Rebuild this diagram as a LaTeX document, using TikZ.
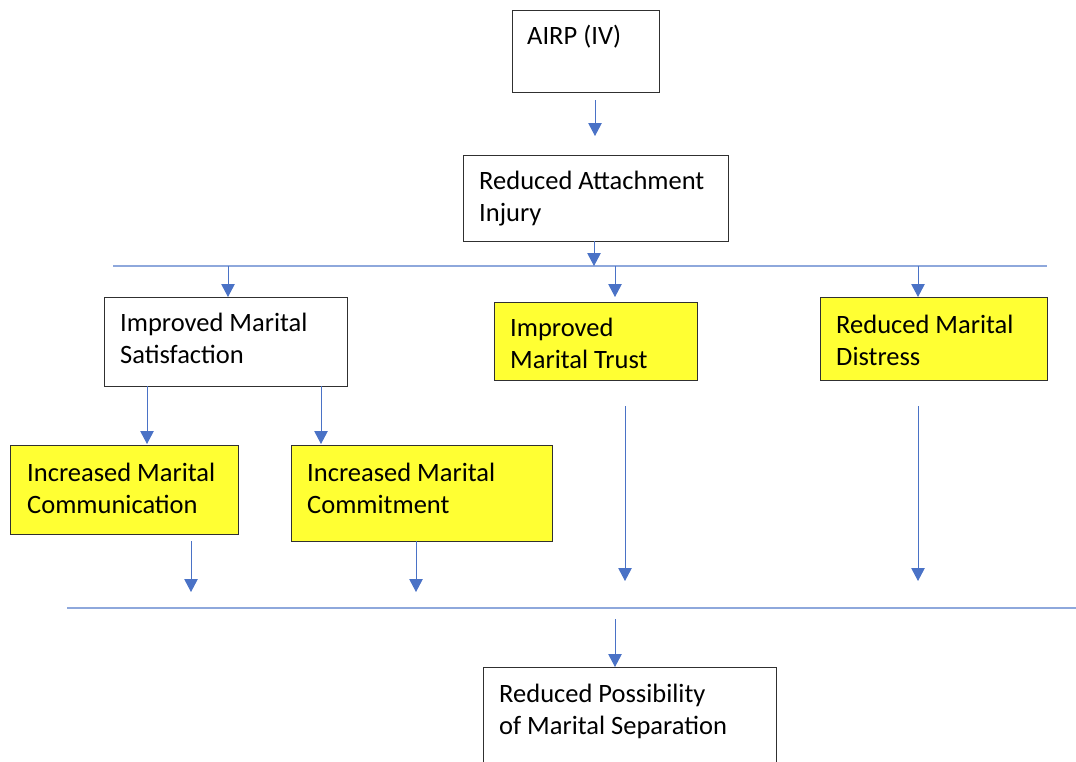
\documentclass[tikz,border=0pt]{standalone}
\usepackage{fontspec}
\setmainfont{Carlito}
\usetikzlibrary{arrows.meta}
\definecolor{arrowblue}{HTML}{4A72C6}
\definecolor{lineblue}{HTML}{8EA8DC}
\definecolor{boxyellow}{HTML}{FFFF33}
\definecolor{boxline}{HTML}{303030}
\begin{document}
\begin{tikzpicture}[x=1pt,y=-1pt,
  box/.style={draw=boxline,line width=1pt,fill=white,inner sep=0pt,anchor=north west},
  ybox/.style={box,fill=boxyellow},
  txt/.style={anchor=base west,inner sep=0pt,align=left,font=\fontsize{26.5}{31.5}\selectfont},
  arr/.style={draw=arrowblue,line width=1pt,-{Triangle[width=13.5pt,length=13pt]}},
  hline/.style={draw=lineblue,line width=1.4pt}]
\useasboundingbox (0,0) rectangle (1076,761);
% boxes
\node[box,minimum width=147pt,minimum height=82pt] (airp) at (512,10) {};
\node[box,minimum width=265pt,minimum height=86pt] (rai) at (463,155) {};
\node[box,minimum width=243pt,minimum height=89pt] (ims) at (104,297) {};
\node[ybox,minimum width=203pt,minimum height=78pt] (imt) at (494,302) {};
\node[ybox,minimum width=227pt,minimum height=83pt] (rmd) at (820,297) {};
\node[ybox,minimum width=228pt,minimum height=89pt] (imcu) at (10,445) {};
\node[ybox,minimum width=261pt,minimum height=96pt] (imco) at (291,445) {};
\node[box,minimum width=293pt,minimum height=110pt] (rpms) at (483,667) {};
% texts (base anchor = baseline of last line)
\node[txt] (tairp) at (527,44) {AIRP (IV)};
\node[txt] (trai) at (479,221) {Reduced Attachment\\Injury};
\node[txt] (tims) at (120,363) {Improved Marital\\Satisfaction};
\node[txt] (timt) at (510,368) {Improved\\Marital Trust};
\node[txt] (trmd) at (836,365) {Reduced Marital\\Distress};
\node[txt] (timcu) at (27,513) {Increased Marital\\Communication};
\node[txt] (timco) at (307,513) {Increased Marital\\Commitment};
\node[txt] (trpms) at (499,734) {Reduced Possibility\\of Marital Separation};
% bus lines
\coordinate (bus1l) at (113,266);
\coordinate (bus1r) at (1047,266);
\coordinate (bus2l) at (67,608);
\coordinate (bus2r) at (1076,608);
\draw[hline] (bus1l) -- (bus1r);
\draw[hline] (bus2l) -- (bus2r);
% arrow end points
\coordinate (a1s) at (595,100); \coordinate (a1e) at (595,136);
\coordinate (a2s) at (594,241); \coordinate (a2e) at (594,266);
\coordinate (a3s) at (228,266); \coordinate (a3e) at (228,297);
\coordinate (a4s) at (615,266); \coordinate (a4e) at (615,297);
\coordinate (a5s) at (918,266); \coordinate (a5e) at (918,297);
\coordinate (a6s) at (147,386); \coordinate (a6e) at (147,444);
\coordinate (a7s) at (321,386); \coordinate (a7e) at (321,444);
\coordinate (a8s) at (191,541); \coordinate (a8e) at (191,592);
\coordinate (a9s) at (416,541); \coordinate (a9e) at (416,592);
\coordinate (a10s) at (625,406); \coordinate (a10e) at (625,581);
\coordinate (a11s) at (918,406); \coordinate (a11e) at (918,581);
\coordinate (a12s) at (615,619); \coordinate (a12e) at (615,667);
\foreach \i in {1,...,12} {\draw[arr] (a\i s) -- (a\i e);}
\end{tikzpicture}
\end{document}
